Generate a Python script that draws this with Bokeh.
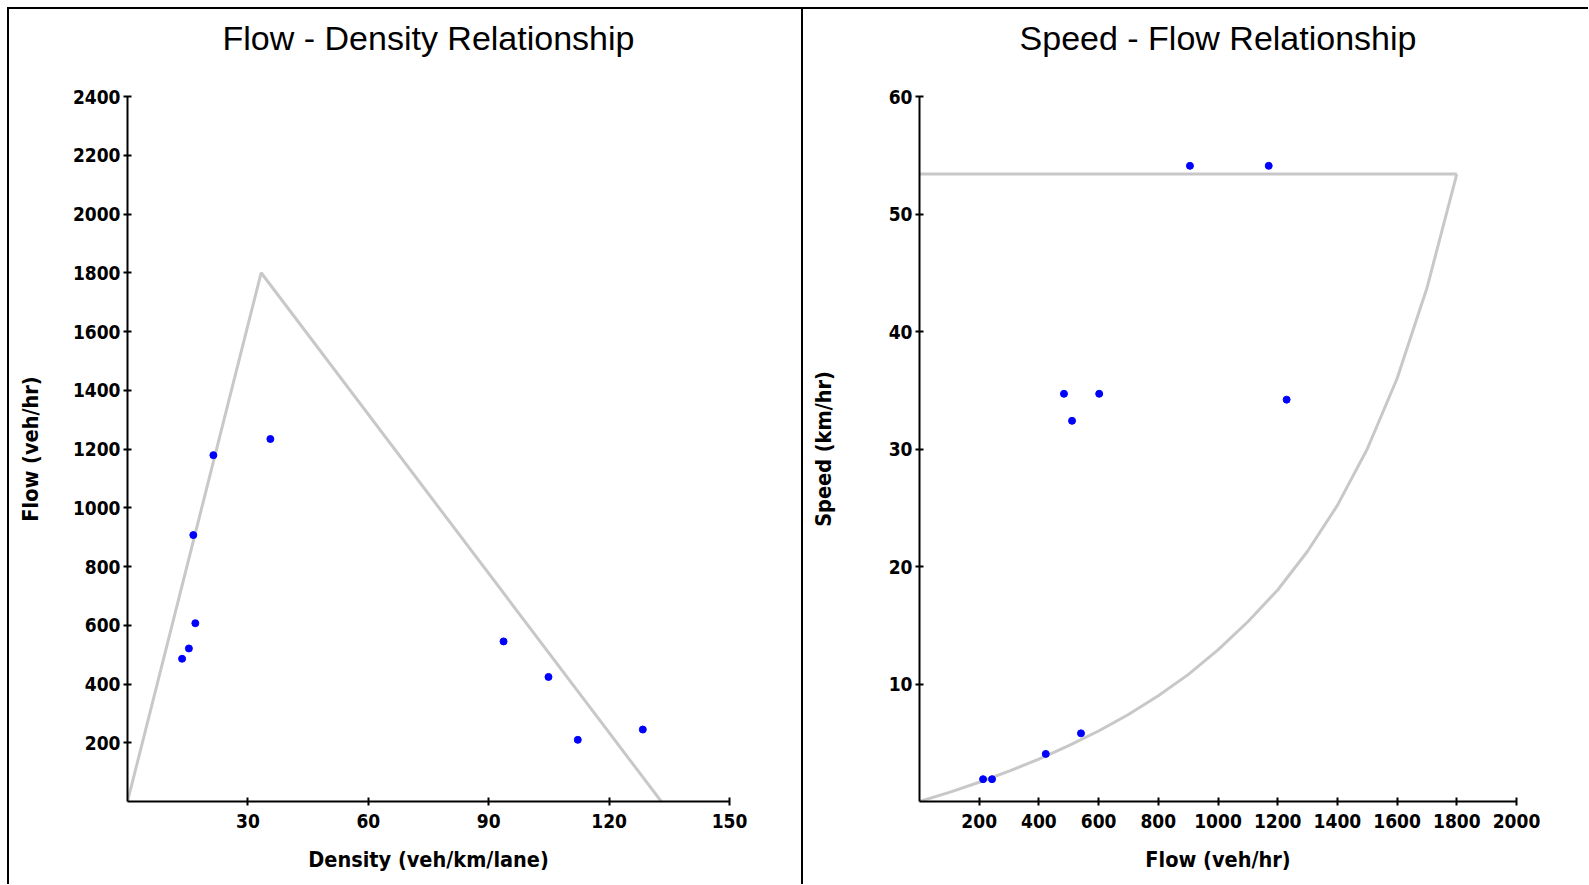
from bokeh.plotting import figure
from bokeh.layouts import row
from bokeh.models import FixedTicker, LinearAxis
from bokeh.embed import file_html
from bokeh.resources import INLINE

density = [13.6, 15.3, 16.9, 16.4, 21.4, 35.6, 93.7, 104.9, 112.2, 128.4]
flow = [486, 521, 607, 907, 1179, 1234, 545, 424, 210, 245]
flow_sf = [484, 511, 602, 906, 1170, 1230, 541, 423, 213, 243]
speed = [34.7, 32.4, 34.7, 54.1, 54.1, 34.2, 5.8, 4.05, 1.9, 1.9]

# Triangular fundamental diagram (flow-density)
tri_density = [0, 33.3, 133]
tri_flow = [0, 1800, 0]

# Speed-flow model lines
ff_flow = [0, 1800]
ff_speed = [53.4, 53.4]
cong_flow = [0, 100, 200, 300, 400, 500, 600, 700, 800, 900, 1000, 1100, 1200,
             1300, 1400, 1500, 1600, 1700, 1800]
cong_speed = [0, 0.78, 1.64, 2.58, 3.61, 4.75, 6.0, 7.4, 9.0, 10.8, 12.9, 15.3, 18.0,
              21.3, 25.2, 30.0, 36.0, 43.7, 53.4]

x1_ticks = [30, 60, 90, 120, 150]
y1_ticks = [200, 400, 600, 800, 1000, 1200, 1400, 1600, 1800, 2000, 2200, 2400]
x2_ticks = [200, 400, 600, 800, 1000, 1200, 1400, 1600, 1800, 2000]
y2_ticks = [10, 20, 30, 40, 50, 60]

FONT = "'DejaVu Sans Condensed', 'DejaVu Sans'"
TFONT = "Liberation Sans"
LINE_COL = "#c8c8c8"


def style(p, xlabel, ylabel, xt, yt, ylabel_standoff):
    p.xgrid.visible = False
    p.ygrid.visible = False
    p.outline_line_color = None
    p.title.text_font = TFONT
    p.title.text_font_style = "normal"
    p.title.text_font_size = "34px"
    p.title.text_color = "black"
    p.title.align = "center"
    p.title.standoff = 15
    xa = p.below[0]
    ya = p.left[0]
    xa.ticker = FixedTicker(ticks=xt)
    ya.ticker = FixedTicker(ticks=yt)
    for ax in (xa, ya):
        ax.axis_line_width = 2
        ax.axis_line_color = "black"
        ax.major_tick_line_width = 2
        ax.major_tick_in = 4
        ax.major_tick_out = 4
        ax.minor_tick_line_color = None
        ax.major_label_text_font = FONT
        ax.major_label_text_font_style = "bold"
        ax.major_label_text_font_size = "19px"
        ax.major_label_text_color = "black"
        ax.axis_label_text_font = FONT
        ax.axis_label_text_font_style = "bold"
        ax.axis_label_text_font_size = "21.5px"
        ax.axis_label_text_color = "black"
    xa.axis_label = xlabel
    ya.axis_label = ylabel
    xa.major_label_standoff = 8
    xa.axis_label_standoff = 16
    ya.major_label_standoff = 3
    ya.axis_label_standoff = ylabel_standoff
    ya.major_label_orientation = "horizontal"
    # invisible axis above the frame, used only as vertical spacing below the title
    mid = xt[len(xt) // 2]
    spacer = LinearAxis(ticker=FixedTicker(ticks=[mid]), axis_line_color=None,
                        major_tick_line_color=None, minor_tick_line_color=None,
                        major_tick_in=0, major_tick_out=32, minor_tick_out=0,
                        major_label_standoff=0, axis_label_standoff=0,
                        major_label_overrides={mid: ""},
                        major_label_text_font_size="1px",
                        major_label_text_alpha=0)
    p.add_layout(spacer, "above")


p1 = figure(width=796, height=877, x_range=(0, 150), y_range=(0, 2400),
            title="Flow - Density Relationship", output_backend="svg",
            toolbar_location=None, min_border_left=118, min_border_right=76,
            min_border_top=0, min_border_bottom=85, background_fill_color="white",
            border_fill_color="white")
style(p1, "Density (veh/km/lane)", "Flow (veh/hr)", x1_ticks, y1_ticks, 27)
p1.line(tri_density, tri_flow, line_color=LINE_COL, line_width=3)
p1.scatter(density, flow, marker="circle", size=7, fill_color="#0000ff",
           line_color="#0000ff")
p1.styles = {"border-left": "2px solid black", "border-top": "2px solid black",
             "border-right": "2px solid black", "margin-left": "7px",
             "margin-top": "7px"}

p2 = figure(width=785, height=877, x_range=(0, 2000), y_range=(0, 60),
            title="Speed - Flow Relationship", output_backend="svg",
            toolbar_location=None, min_border_left=116, min_border_right=72,
            min_border_top=0, min_border_bottom=85, background_fill_color="white",
            border_fill_color="white")
style(p2, "Flow (veh/hr)", "Speed (km/hr)", x2_ticks, y2_ticks, 50)
p2.line(ff_flow, ff_speed, line_color=LINE_COL, line_width=3)
p2.line(cong_flow, cong_speed, line_color=LINE_COL, line_width=3)
p2.scatter(flow_sf, speed, marker="circle", size=7, fill_color="#0000ff",
           line_color="#0000ff")
p2.styles = {"border-top": "2px solid black", "margin-top": "7px"}

layout = row(p1, p2)
open("out.html", "w").write(file_html(layout, INLINE))
